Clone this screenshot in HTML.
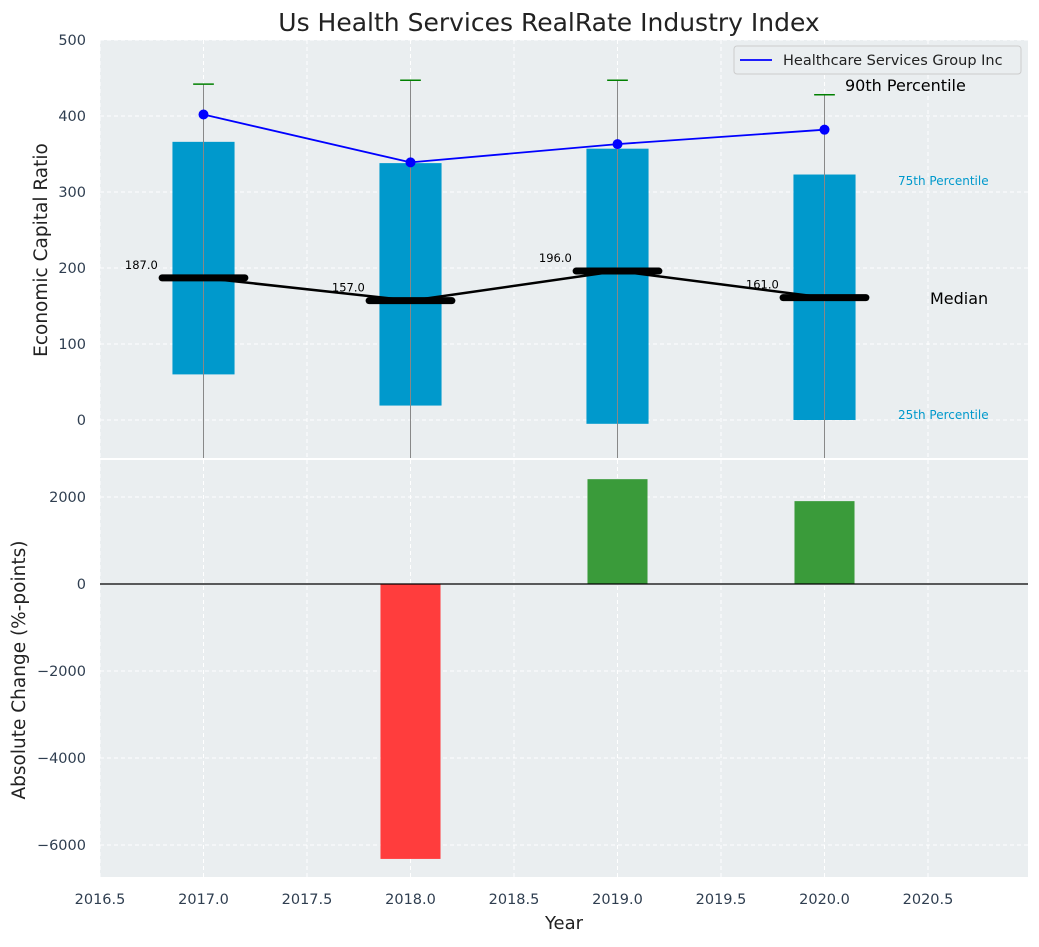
<!DOCTYPE html>
<html><head><meta charset="utf-8"><style>
body{margin:0;background:#fff;}
svg text{font-family:"DejaVu Sans","Liberation Sans",sans-serif;}
</style></head><body>
<svg id="c" width="1039" height="942" xmlns="http://www.w3.org/2000/svg"></svg>
<script>
const years=[2017,2018,2019,2020];
const q1=[60,19,-5,0];
const q3=[366,338,357,323];
const p90=[442,447,447,428];
const medians=[187,157,196,161];
const company=[402,339,363,382];
const changes=[0,-6320,2410,1905];
const xTicks=[2016.5,2017,2017.5,2018,2018.5,2019,2019.5,2020,2020.5];
const yTopTicks=[0,100,200,300,400,500];
const yBotTicks=[-6000,-4000,-2000,0,2000];

const NS="http://www.w3.org/2000/svg";
const svg=document.getElementById('c');
function el(t,a,p){const e=document.createElementNS(NS,t);for(const k in a)e.setAttribute(k,a[k]);(p||svg).appendChild(e);return e;}
const L=100,R=1028;
const X=v=>L+(v-2016.5)*207;
const T0=40,T1=458;const YT=v=>T0+(500-v)*(T1-T0)/550;
const B0=460,B1=877;const YB=v=>584-v*87/2000;

let e=el('rect',{x:L,y:T0,width:R-L,height:T1-T0,fill:'#eaeef0'});

e=el('rect',{x:L,y:B0,width:R-L,height:B1-B0,fill:'#eaeef0'});


xTicks.forEach(v=>{
  el('line',{x1:X(v),x2:X(v),y1:T0,y2:T1,stroke:'#fff','stroke-dasharray':'4,3','stroke-width':1});
  el('line',{x1:X(v),x2:X(v),y1:B0,y2:B1,stroke:'#fff','stroke-dasharray':'4,3','stroke-width':1});
  const t=el('text',{x:X(v),y:904,'text-anchor':'middle','font-size':14.5,fill:'#2f3e50'});t.textContent=v.toFixed(1);
  
});
yTopTicks.forEach(v=>{
  el('line',{x1:L,x2:R,y1:YT(v),y2:YT(v),stroke:'#fff','stroke-dasharray':'4,3'});
  const t=el('text',{x:86,y:YT(v)+5,'text-anchor':'end','font-size':14.5,fill:'#2f3e50'});t.textContent=v;
  
});
yBotTicks.forEach(v=>{
  el('line',{x1:L,x2:R,y1:YB(v),y2:YB(v),stroke:'#fff','stroke-dasharray':'4,3'});
  const t=el('text',{x:86,y:YB(v)+5,'text-anchor':'end','font-size':14.5,fill:'#2f3e50'});t.textContent=v<0?'\u2212'+Math.abs(v):v;
  
});

years.forEach((y,i)=>{
  const b=el('rect',{x:X(y-0.15),y:YT(q3[i]),width:0.3*207,height:YT(q1[i])-YT(q3[i]),fill:'#0099cc'});
  
  el('line',{x1:X(y),x2:X(y),y1:T1,y2:YT(p90[i]),stroke:'#888','stroke-width':1});
  const c=el('line',{x1:X(y-0.05),x2:X(y+0.05),y1:YT(p90[i]),y2:YT(p90[i]),stroke:'green','stroke-width':1.5});
  
});
el('polyline',{points:years.map((y,i)=>X(y)+','+YT(medians[i])).join(' '),fill:'none',stroke:'#000','stroke-width':2.5});
years.forEach((y,i)=>{
  const m=el('line',{x1:X(y-0.2),x2:X(y+0.2),y1:YT(medians[i]),y2:YT(medians[i]),stroke:'#000','stroke-width':7,'stroke-linecap':'round'});
  
  const t=el('text',{x:X(y-0.3),y:YT(medians[i])-9,'text-anchor':'middle','font-size':11.5,fill:'#000'});t.textContent=medians[i].toFixed(1);
  
});
el('polyline',{points:years.map((y,i)=>X(y)+','+YT(company[i])).join(' '),fill:'none',stroke:'#0000ff','stroke-width':1.8});
years.forEach((y,i)=>{
  const p=el('circle',{cx:X(y),cy:YT(company[i]),r:5,fill:'#0000ff'});
  
});
[['90th Percentile',845,91,16,'#000'],['75th Percentile',898,185,12,'#0099cc'],['Median',930,304,16,'#000'],['25th Percentile',898,419,12,'#0099cc']].forEach(a=>{
  const t=el('text',{x:a[1],y:a[2],'font-size':a[3],fill:a[4]});t.textContent=a[0];
  
});
const lg=el('g',{});
el('rect',{x:734,y:46,width:287,height:28,rx:3,fill:'#eaeef0',stroke:'#ccc'},lg);
el('line',{x1:740,x2:772,y1:60,y2:60,stroke:'#0000ff','stroke-width':1.8},lg);
let lt=el('text',{x:783,y:65,'font-size':14.5,fill:'#222'},lg);lt.textContent='Healthcare Services Group Inc';

years.forEach((y,i)=>{
  const v=changes[i];if(!v)return;
  const b=el('rect',{x:X(y-0.145),y:Math.min(YB(v),YB(0)),width:0.29*207,height:Math.abs(YB(v)-YB(0)),fill:v<0?'#ff3d3d':'#3a9b3a'});
  
});
el('line',{x1:L,x2:R,y1:YB(0),y2:YB(0),stroke:'#000','stroke-width':1.2});

let t=el('text',{x:549,y:31,'text-anchor':'middle','font-size':25,fill:'#222'});t.textContent='Us Health Services RealRate Industry Index';

t=el('text',{x:564,y:929,'text-anchor':'middle','font-size':18,fill:'#222'});t.textContent='Year';

t=el('text',{x:0,y:0,'text-anchor':'middle','font-size':18.5,fill:'#222',transform:'translate(47,250) rotate(-90)'});t.textContent='Economic Capital Ratio';

t=el('text',{x:0,y:0,'text-anchor':'middle','font-size':18.5,fill:'#222',transform:'translate(25,670) rotate(-90)'});t.textContent='Absolute Change (%-points)';

</script>
</body></html>
